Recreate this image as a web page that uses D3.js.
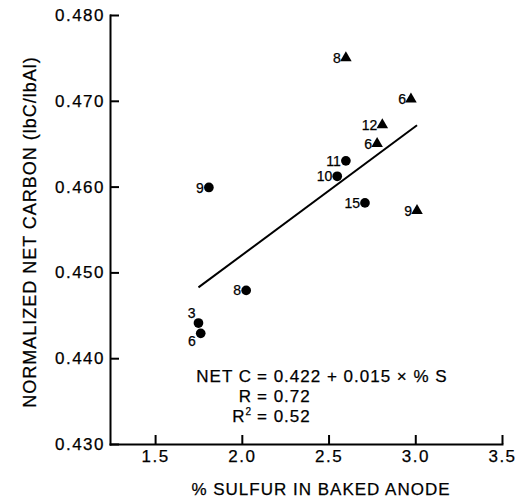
<!DOCTYPE html>
<html>
<head>
<meta charset="utf-8">
<script src="https://cdn.jsdelivr.net/npm/d3@7"></script>
<style>
  body { margin: 0; background: #fff; }
  svg { font-family: "Liberation Sans", Arial, sans-serif; }
  svg text { stroke: #000; stroke-width: 0.25px; fill: #000; }
  .axis path, .axis line { stroke: #000; stroke-width: 2; }
  .axis text { font-size: 17px; letter-spacing: 1.5px; }
</style>
</head>
<body>
<div id="chart"></div>
<script>
// % sulfur in baked anode vs normalized net carbon, number label next to each point
var sulfur    = [2.60, 2.975, 2.81, 2.78, 2.60, 2.55, 2.71, 3.01, 1.81, 2.025, 1.75, 1.763];
var netCarbon = [0.4750, 0.4702, 0.4672, 0.4650, 0.4630, 0.4612, 0.4581, 0.4572, 0.4599, 0.4479, 0.4441, 0.4429];
var counts    = ["8", "6", "12", "6", "11", "10", "15", "9", "9", "8", "3", "6"];
var group     = ["A", "A", "A", "A", "B", "B", "B", "A", "B", "B", "B", "B"];
var labelSide = ["left", "left", "left", "left", "left", "left", "left", "left", "left", "left", "above", "below"];

var xTicks = [1.5, 2.0, 2.5, 3.0, 3.5];
var yTicks = [0.430, 0.440, 0.450, 0.460, 0.470, 0.480];

// fitted line: NET C = 0.422 + 0.015 x %S
var intercept = 0.422;
var slope = 0.015;
var fitRange = [1.75, 3.01];

var width = 519, height = 498;

var svg = d3.select("#chart").append("svg")
	.attr("width", width).attr("height", height);

var x = d3.scaleLinear().domain([1.24, 3.5]).range([110, 502]);
var y = d3.scaleLinear().domain([0.430, 0.480]).range([444, 15]);

var xAxis = d3.axisBottom(x).tickValues(xTicks).tickFormat(d3.format(".1f"))
	.tickSizeInner(-9).tickSizeOuter(0).tickPadding(6);
var yAxis = d3.axisLeft(y).tickValues(yTicks).tickFormat(d3.format(".3f"))
	.tickSizeInner(-9).tickSizeOuter(0).tickPadding(5);

svg.append("g").attr("class", "axis")
	.attr("transform", "translate(0," + y.range()[0] + ")")
	.call(xAxis);

svg.append("g").attr("class", "axis")
	.attr("transform", "translate(" + x.range()[0] + ",0)")
	.call(yAxis);

svg.selectAll(".axis path").attr("stroke-linecap", "square");

// axis titles
svg.append("text")
	.attr("x", 321).attr("y", 495)
	.attr("text-anchor", "middle")
	.style("font-size", "17px").style("letter-spacing", "1px")
	.text("% SULFUR IN BAKED ANODE");

svg.append("text")
	.attr("transform", "translate(36,232) rotate(-90)")
	.attr("text-anchor", "middle")
	.style("font-size", "18px").style("letter-spacing", "1px")
	.text("NORMALIZED NET CARBON (lbC/lbAl)");

// regression line
var fit = fitRange.map(function (s) { return [s, intercept + slope * s]; });
svg.append("path")
	.datum(fit)
	.attr("d", d3.line().x(function (d) { return x(d[0]); }).y(function (d) { return y(d[1]); }))
	.attr("stroke", "#000").attr("stroke-width", 2).attr("fill", "none");

// points
var points = sulfur.map(function (s, i) {
	return {s: s, c: netCarbon[i], n: counts[i], g: group[i], side: labelSide[i]};
});

var tri = d3.symbol().type(d3.symbolTriangle).size(58);
var dot = d3.symbol().type(d3.symbolCircle).size(74);

var pt = svg.selectAll("g.pt")
	.data(points)
	.enter().append("g")
	.attr("class", "pt")
	.attr("transform", function (d) { return "translate(" + x(d.s) + "," + y(d.c) + ")"; });

pt.append("path")
	.attr("d", function (d) { return d.g === "A" ? tri() : dot(); })
	.attr("fill", "#000");

pt.append("text")
	.attr("text-anchor", "end")
	.attr("x", function (d) { return d.side === "left" ? -5 : (d.side === "above" ? -3 : -5); })
	.attr("y", function (d) { return d.side === "left" ? 0 : (d.side === "above" ? -10 : 8); })
	.attr("dy", "0.36em")
	.style("font-size", "14px")
	.text(function (d) { return d.n; });

// equation block
var eq = svg.append("g").style("font-size", "17px").style("letter-spacing", "1px");
var eqLines = [
	{left: "NET C", right: "= 0.422 + 0.015 × % S", y: 382},
	{left: "R", right: "= 0.72", y: 402},
	{left: "R", sup: "2", right: "= 0.52", y: 422}
];
eqLines.forEach(function (l) {
	var t = eq.append("text").attr("x", 252).attr("y", l.y).attr("text-anchor", "end");
	t.append("tspan").text(l.left);
	if (l.sup) {
		t.append("tspan").attr("dy", -7).style("font-size", "10px").text(l.sup);
	}
	eq.append("text").attr("x", 257).attr("y", l.y).text(l.right);
});
</script>
</body>
</html>
